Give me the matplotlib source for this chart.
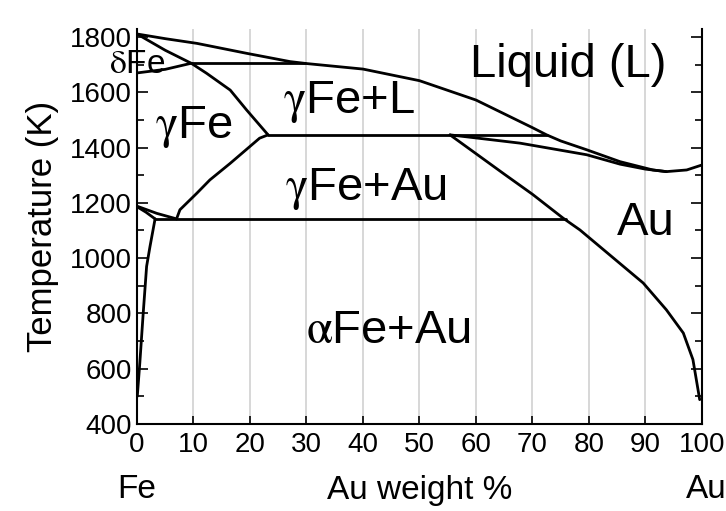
import matplotlib.pyplot as plt
import matplotlib.ticker as mticker

plt.rcParams['font.family'] = ['Liberation Sans', 'DejaVu Sans']
plt.rcParams['mathtext.fontset'] = 'stix'

# фазові межі Fe-Au (масові % Au, температура в K)
liq_x = [0, 5, 10.6, 19.4, 27.1, 30, 40, 50, 60, 65, 70, 72.5, 75, 79.6, 85.5, 91.3, 93.7, 97.3, 100]
liq_t = [1811, 1794, 1777, 1741, 1711, 1704, 1684, 1642, 1572, 1522, 1472, 1446, 1424, 1392, 1349, 1319, 1313, 1319, 1337]

dsol_x = [0, 5, 9.6]
dsol_t = [1811, 1752, 1705]

dgam_x = [0, 5, 9.6]
dgam_t = [1670, 1683, 1705]

per1_x = [9.6, 29.7]
per1_t = [1705, 1705]

gsol_x = [9.6, 12.3, 16.5, 19.4, 23.2]
gsol_t = [1705, 1669, 1608, 1536, 1446]

per2_x = [23.2, 72.5]
per2_t = [1446, 1446]

gsolv_x = [23.2, 21.7, 16.5, 12.9, 10.6, 7.6, 7.0]
gsolv_t = [1446, 1434, 1343, 1283, 1235, 1175, 1142]

ausol_x = [55.4, 67.8, 79.6, 85.5, 90, 93.7]
ausol_t = [1446, 1416, 1374, 1340, 1322, 1313]

ausolv_x = [55.4, 60, 65, 70, 75.4, 78.4, 81.9, 89.6, 93.7, 96.7, 98.4, 99.6]
ausolv_t = [1446, 1378, 1304, 1231, 1145, 1102, 1042, 910, 813, 729, 633, 488]

eut_x = [3.2, 76]
eut_t = [1142, 1142]

ag1_x = [0, 3.5, 7.0]
ag1_t = [1188, 1162, 1142]

ag2_x = [0, 1.6, 3.2]
ag2_t = [1186, 1166, 1142]

asolv_x = [3.2, 2.3, 1.7, 1.1, 0.5, 0.05]
asolv_t = [1142, 1042, 970, 801, 621, 500]

# підписи областей
labels = [r'Liquid (L)', r'$\mathrm{\gamma}$Fe+L', r'$\mathrm{\gamma}$Fe', r'$\mathrm{\gamma}$Fe+Au',
          r'$\mathrm{\alpha}$Fe+Au', r'Au', r'$\mathrm{\delta}$Fe']
label_x = [76.3, 37.5, 10, 40.5, 44.5, 90, 0]
label_t = [1700, 1565, 1475, 1250, 735, 1128, 1700]
label_size = [34, 34, 34, 34, 34, 34, 24]

fig = plt.figure(figsize=(7.26, 5.11), dpi=100)
ax = fig.add_axes([0.1887, 0.1703, 0.7782, 0.7735])

for xx in range(10, 100, 10):
    ax.axvline(xx, color='#d4d4d4', lw=1.3, zorder=0)

curves = [(liq_x, liq_t), (dsol_x, dsol_t), (dgam_x, dgam_t), (per1_x, per1_t),
          (gsol_x, gsol_t), (per2_x, per2_t), (gsolv_x, gsolv_t), (ausol_x, ausol_t),
          (ausolv_x, ausolv_t), (eut_x, eut_t), (ag1_x, ag1_t), (ag2_x, ag2_t),
          (asolv_x, asolv_t)]
for cx, ct in curves:
    ax.plot(cx, ct, color='black', lw=2.0, solid_capstyle='round', solid_joinstyle='round')

for txt, lx, lt, fs in zip(labels, label_x, label_t, label_size):
    ax.text(lx, lt, txt, fontsize=fs, ha='center', va='center')

ax.set_xlim(0, 100)
ax.set_ylim(400, 1830)
ax.xaxis.set_major_locator(mticker.MultipleLocator(10))
ax.yaxis.set_major_locator(mticker.MultipleLocator(200))
ax.yaxis.set_minor_locator(mticker.MultipleLocator(100))
ax.tick_params(axis='both', which='both', direction='in', labelsize=20)
ax.tick_params(axis='y', which='major', length=8, width=1.2, right=True)
ax.tick_params(axis='y', which='minor', length=5, width=1.2, right=True)
ax.tick_params(axis='x', which='major', length=6, width=1.2, pad=6)
ax.spines['top'].set_visible(False)
for s in ['left', 'right', 'bottom']:
    ax.spines[s].set_linewidth(1.5)

ax.set_ylabel('Temperature (K)', fontsize=25, labelpad=8)
ax.set_xlabel('Au weight %', fontsize=24, labelpad=12)
ax.text(0, -0.165, 'Fe', transform=ax.get_xaxis_transform(), fontsize=24, ha='center', va='center')
ax.text(100.7, -0.165, 'Au', transform=ax.get_xaxis_transform(), fontsize=24, ha='center', va='center')

fig.savefig('out.png', dpi=100)
